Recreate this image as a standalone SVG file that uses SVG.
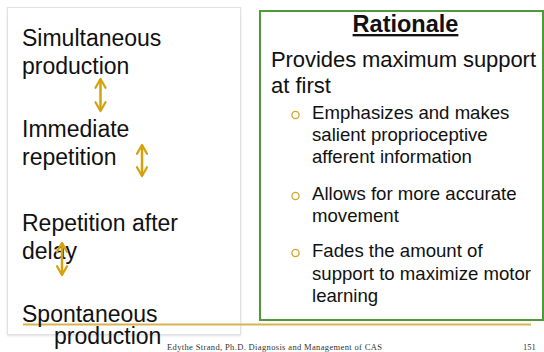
<svg xmlns="http://www.w3.org/2000/svg" width="544" height="352" viewBox="0 0 544 352">
<defs>
<style>
.t{font-family:"Liberation Sans",Arial,sans-serif;fill:#111;}
.l{font-size:23px;}
.m{font-size:22px;}
.b{font-size:18.6px;}
.h{font-size:23.5px;font-weight:bold;text-decoration:underline;}
.f{font-family:"Liberation Serif","Times New Roman",serif;font-size:8.5px;fill:#333;}
.arr{stroke:#d4a20e;stroke-width:2.5;fill:none;marker-start:url(#ah);marker-end:url(#ah);}
.dot{fill:none;stroke:#d4a428;stroke-width:1.3;}
</style>
<marker id="ah" viewBox="0 0 10 10" refX="8.5" refY="5" markerWidth="5" markerHeight="5" orient="auto-start-reverse" markerUnits="strokeWidth">
<path d="M1.5,1 L8.5,5 L1.5,9" fill="none" stroke="#d4a20e" stroke-width="1.8" stroke-linecap="round" stroke-linejoin="round"/>
</marker>
<filter id="sh" x="-5%" y="-5%" width="110%" height="110%">
<feDropShadow dx="0" dy="1" stdDeviation="1" flood-color="#000" flood-opacity="0.12"/>
</filter>
</defs>
<rect width="544" height="352" fill="#fff"/>
<g id="left-box">
<rect x="7.5" y="7.5" width="233" height="327" fill="#fff" stroke="#e2e2e2" stroke-width="1" filter="url(#sh)"/>
</g>
<g id="right-box">
<rect x="260" y="11" width="283" height="309" fill="#fff" stroke="#4e9a3a" stroke-width="2"/>
</g>
<g id="gold-rule">
<line x1="23" y1="324.5" x2="531" y2="324.5" stroke="#d8b450" stroke-width="1.8"/>
</g>
<g id="node-simultaneous">
<text class="t l" x="22" y="46">Simultaneous</text>
<text class="t l" x="22" y="74">production</text>
</g>
<g id="node-immediate">
<text class="t l" x="22" y="137">Immediate</text>
<text class="t l" x="22" y="165">repetition</text>
</g>
<g id="node-delay">
<text class="t l" x="22" y="231">Repetition after</text>
<text class="t l" x="22" y="259">delay</text>
</g>
<g id="node-spontaneous">
<text class="t l" x="22" y="322">Spontaneous</text>
<text class="t l" x="54" y="344">production</text>
</g>
<g id="connectors">
<line class="arr" x1="100.5" y1="79" x2="100.5" y2="111"/>
<line class="arr" x1="142" y1="145" x2="142" y2="176"/>
<line class="arr" x1="62" y1="243" x2="62" y2="275"/>
</g>
<g id="rationale">
<text class="t h" x="405.5" y="32" text-anchor="middle">Rationale</text>
<text class="t m" x="271" y="67" textLength="265" lengthAdjust="spacing">Provides maximum support</text>
<text class="t m" x="271" y="93">at first</text>
<circle class="dot" cx="295.5" cy="115" r="3.6"/>
<text class="t b" x="312" y="119">Emphasizes and makes</text>
<text class="t b" x="312" y="141">salient proprioceptive</text>
<text class="t b" x="312" y="163">afferent information</text>
<circle class="dot" cx="295.5" cy="196" r="3.6"/>
<text class="t b" x="312" y="200">Allows for more accurate</text>
<text class="t b" x="312" y="222">movement</text>
<circle class="dot" cx="295.5" cy="253" r="3.6"/>
<text class="t b" x="312" y="257">Fades the amount of</text>
<text class="t b" x="312" y="280">support to maximize motor</text>
<text class="t b" x="312" y="302">learning</text>
</g>
<g id="footer">
<text class="f" x="167" y="349.5" textLength="215" lengthAdjust="spacing">Edythe Strand, Ph.D. Diagnosis and Management of CAS</text>
<text class="f" x="523" y="349.5">151</text>
</g>
</svg>
